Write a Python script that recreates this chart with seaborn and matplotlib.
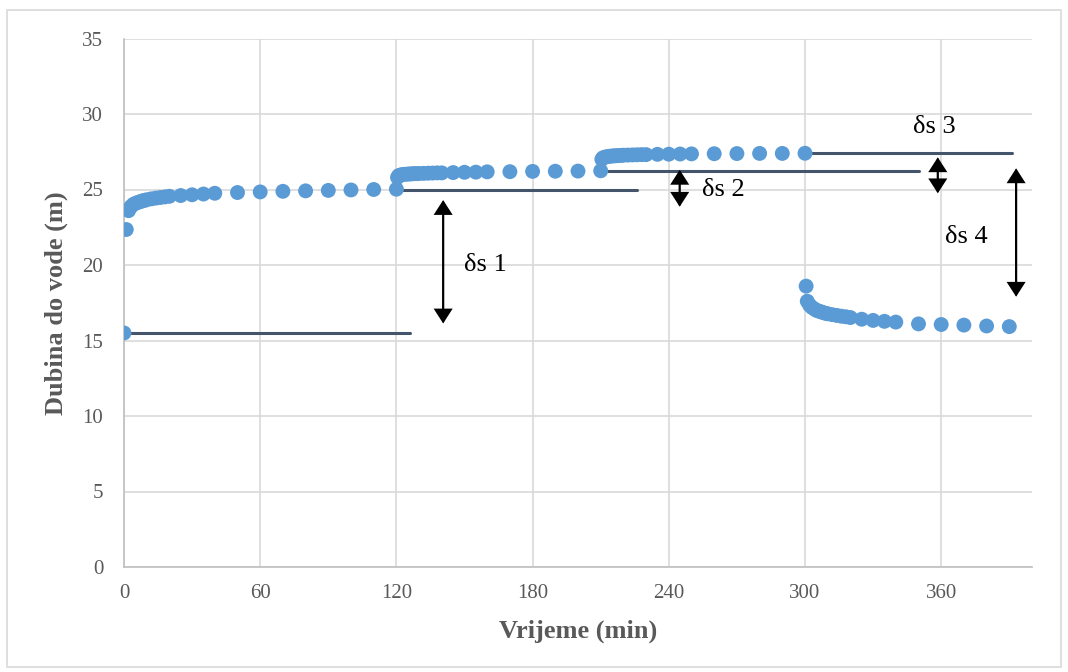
import matplotlib
matplotlib.use("Agg")
import matplotlib.pyplot as plt
import seaborn as sns
import pandas as pd
import numpy as np

# ---- data ----
t_step1 = [0, 1, 2, 3, 4, 5, 6, 7, 8, 9, 10, 12, 14, 16, 18, 20, 25, 30, 35, 40,
           50, 60, 70, 80, 90, 100, 110, 120]
s_step1 = [15.5, 22.35, 23.6, 23.85, 24.0, 24.08, 24.14, 24.19, 24.24, 24.28, 24.32,
           24.38, 24.43, 24.47, 24.51, 24.55, 24.6, 24.65, 24.7, 24.75,
           24.8, 24.84, 24.88, 24.91, 24.94, 24.97, 25.0, 25.02]

t_step2 = [120.5, 121, 122, 123, 124, 125, 126, 127, 128, 129, 130, 132, 134, 136, 138,
           140, 145, 150, 155, 160, 170, 180, 190, 200, 210]
s_step2 = [25.8, 25.92, 25.97, 26.0, 26.01, 26.02, 26.03, 26.04, 26.05, 26.05, 26.06,
           26.07, 26.08, 26.09, 26.1, 26.1, 26.12, 26.14, 26.15, 26.17, 26.18, 26.2,
           26.21, 26.22, 26.24]

t_step3 = [210.5, 211, 212, 213, 214, 215, 216, 217, 218, 219, 220, 222, 224, 226, 228,
           230, 235, 240, 245, 250, 260, 270, 280, 290, 300]
s_step3 = [27.0, 27.1, 27.15, 27.18, 27.2, 27.22, 27.23, 27.24, 27.25, 27.26, 27.27,
           27.28, 27.29, 27.3, 27.31, 27.31, 27.33, 27.34, 27.35, 27.36, 27.37, 27.38,
           27.39, 27.39, 27.4]

t_step4 = [300.5, 301, 302, 303, 304, 305, 306, 307, 308, 309, 310, 312, 314, 316, 318,
           320, 325, 330, 335, 340, 350, 360, 370, 380, 390]
s_step4 = [18.6, 17.6, 17.35, 17.2, 17.1, 17.0, 16.95, 16.9, 16.85, 16.8, 16.77, 16.71,
           16.66, 16.61, 16.57, 16.52, 16.41, 16.33, 16.27, 16.22, 16.1, 16.06, 16.02,
           15.96, 15.92]

# reference levels (horizontal lines)
level_x0 = [0, 120, 210, 300]
level_x1 = [126, 226, 350, 391]
level_y = [15.5, 25.0, 26.2, 27.4]

# drawdown arrows
arrow_labels = ["δs 1", "δs 2", "δs 3", "δs 4"]
arrow_x = [140.6, 244.8, 358.5, 393.0]
arrow_y_top = [24.3, 26.3, 27.13, 26.4]
arrow_y_bot = [16.13, 23.86, 24.75, 17.9]
label_x = [159, 264, 357, 371]
label_y = [20.0, 24.96, 29.16, 21.87]

x_ticks = [0, 60, 120, 180, 240, 300, 360]
y_ticks = [0, 5, 10, 15, 20, 25, 30, 35]
x_title = "Vrijeme (min)"
y_title = "Dubina do vode (m)"

# ---- plot ----
sns.set_theme(style="white")
plt.rcParams["font.family"] = ["Liberation Serif", "DejaVu Serif"]

fig = plt.figure(figsize=(10.68, 6.72), dpi=100)
ax = fig.add_axes([124 / 1068, 1 - 567 / 672, (1032 - 124) / 1068, (567 - 38.5) / 672])

df = pd.DataFrame({
    "t": t_step1 + t_step2 + t_step3 + t_step4,
    "s": s_step1 + s_step2 + s_step3 + s_step4,
})

for x0, x1, y in zip(level_x0, level_x1, level_y):
    ax.plot([x0, x1], [y, y], color="#44546A", lw=2.2, solid_capstyle="round", zorder=2)

sns.scatterplot(data=df, x="t", y="s", ax=ax, color="#5B9BD5", s=115,
                edgecolor="none", linewidth=0, zorder=3, legend=False)

for lab, ax_, yt, yb, lx, ly in zip(arrow_labels, arrow_x, arrow_y_top, arrow_y_bot,
                                    label_x, label_y):
    ax.annotate("", xy=(ax_, yt), xytext=(ax_, yb),
                arrowprops=dict(arrowstyle="<|-|>,head_length=0.42,head_width=0.27",
                                color="black", lw=1.6, mutation_scale=20,
                                shrinkA=0, shrinkB=0, joinstyle="miter"), zorder=4)
    ax.text(lx, ly, lab, fontsize=19, color="black", ha="center", va="center", zorder=5)

ax.set_xlim(0, 400)
ax.set_ylim(0, 35)
ax.set_xticks(x_ticks)
ax.set_yticks(y_ticks)
ax.grid(True, color="#D9D9D9", lw=1.2)
ax.set_axisbelow(True)
for side in ["top", "right"]:
    ax.spines[side].set_visible(False)
ax.spines["left"].set_color("#BFBFBF")
ax.spines["bottom"].set_color("#BFBFBF")
ax.spines["left"].set_linewidth(1.2)
ax.spines["bottom"].set_linewidth(1.2)
ax.tick_params(axis="both", labelsize=15, labelcolor="#595959", length=0)
ax.tick_params(axis="y", pad=15)
ax.tick_params(axis="x", pad=12.5)
ax.set_xlabel(x_title, fontsize=19, fontweight="bold", color="#595959", labelpad=12)
ax.set_ylabel(y_title, fontsize=19, fontweight="bold", color="#595959", labelpad=10)

border = plt.Rectangle((7 / 1068, 5 / 672), 1054 / 1068, 657 / 672, transform=fig.transFigure,
                       fill=False, edgecolor="#D9D9D9", lw=1.2)
fig.patches.append(border)

fig.savefig("out.png", dpi=100, facecolor="white")
